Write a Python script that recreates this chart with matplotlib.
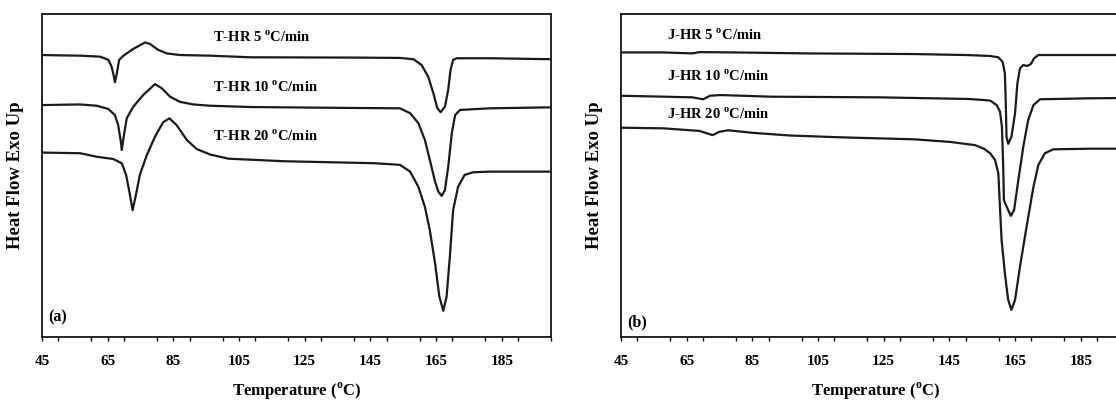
import matplotlib
matplotlib.use('Agg')
import matplotlib.pyplot as plt
from matplotlib.ticker import MultipleLocator

plt.rcParams.update({'font.family': 'serif', 'font.serif': ['Liberation Serif'],
                     'font.weight': 'bold', 'font.size': 11,
                     'mathtext.fontset': 'custom',
                     'mathtext.rm': 'Liberation Serif:bold',
                     'mathtext.bf': 'Liberation Serif:bold'})

# ---- panel (a): T-HR curves (temperature in C, heat flow in arbitrary units)
t5_x = [45, 50, 56.6, 62.7, 65.2, 66.2, 66.9, 67.2, 67.7, 68.5, 69.8, 72.8, 76.4, 77.9, 80.4, 83.0,
        87.0, 96.2, 108.4, 141, 154, 158.1, 160.6, 162.6, 164.2, 165.4, 166.4, 167.7, 168.7, 169.4,
        170.2, 171.3, 181.4, 200]
t5_y = [87.3, 87.2, 87.1, 86.8, 85.8, 83.7, 80.6, 78.9, 81.1, 85.8, 87.1, 89.2, 91.2, 90.7, 88.9, 87.8,
        87.3, 87.1, 86.6, 86.5, 86.4, 86.0, 84.2, 80.6, 75.4, 70.8, 69.6, 71.3, 76.5, 82.7,
        85.8, 86.3, 86.3, 86.0]
t10_x = [45, 56.6, 61.7, 65.2, 67.2, 68.2, 69.0, 69.3, 69.8, 70.8, 72.8, 75.8, 79.4, 81.5, 84.0,
         87.0, 91.1, 96.2, 108.4, 141, 154, 157.1, 159.6, 161.6, 163.1, 164.7, 165.7, 166.7, 167.7,
         168.7, 169.8, 170.8, 172.3, 181.4, 200]
t10_y = [71.8, 72.0, 71.6, 70.6, 68.7, 65.6, 60.5, 57.9, 61.5, 67.7, 71.3, 74.9, 78.3, 77.0, 74.4,
         72.8, 72.0, 71.6, 71.2, 70.9, 70.8, 69.3, 66.2, 61.0, 54.8, 48.1, 45.0, 43.7, 45.5,
         52.7, 63.1, 68.7, 70.3, 70.8, 71.1]
t20_x = [45, 56.6, 61.7, 66.7, 69.3, 70.6, 71.6, 72.6, 73.6, 74.8, 76.9, 79.4, 81.9, 83.8, 86.0,
         89.1, 92.1, 96.2, 101.8, 119.2, 146.4, 154, 157.1, 159.6, 161.6, 163.1, 164.7, 166.0, 167.2,
         168.2, 169.2, 170.2, 171.7, 173.7, 176.3, 181.4, 200]
t20_y = [57.1, 56.9, 55.8, 55.1, 53.8, 50.2, 45.0, 39.3, 44.0, 50.2, 56.3, 62.0, 66.5, 67.7, 65.6,
         61.0, 58.2, 56.5, 55.2, 54.4, 53.8, 53.3, 51.2, 46.5, 40.3, 33.1, 22.8, 12.5, 8.1,
         12.5, 24.9, 39.3, 46.5, 50.2, 51.0, 51.2, 51.2]

# ---- panel (b): J-HR curves
j5_x = [45, 58, 66.7, 68.9, 79.8, 101.6, 134.3, 150, 155, 157.4, 159.9, 161.2, 161.9, 162.2, 162.4,
        162.9, 163.9, 165.0, 165.7, 166.5, 167.5, 168.7, 169.8, 170.8, 172.1, 187.8, 200]
j5_y = [88.1, 88.1, 87.8, 88.2, 88.1, 87.8, 87.6, 87.3, 87.1, 87.0, 86.6, 85.2, 81.6, 71.3, 62.0,
        59.8, 62.0, 69.3, 78.5, 83.2, 84.2, 83.9, 84.5, 86.3, 87.3, 87.3, 87.3]
j10_x = [45, 58, 66.7, 70, 72.1, 75.4, 90.7, 123.4, 150.7, 155, 157.4, 159.4, 160.4, 161.0, 161.4,
         161.6, 162.2, 162.9, 163.7, 164.7, 166.0, 167.5, 169.0, 170.6, 172.6, 187.8, 200]
j10_y = [74.7, 74.4, 74.2, 73.6, 74.7, 74.9, 74.4, 74.2, 73.7, 73.4, 73.2, 71.8, 69.8, 65.1, 52.7,
         42.4, 40.9, 39.3, 37.5, 39.3, 48.6, 58.9, 67.2, 71.8, 73.6, 73.9, 74.0]
j20_x = [45, 58, 68.9, 72.9, 74.9, 77.6, 85.2, 96.1, 112.5, 134.3, 145.2, 152.8, 155.5, 157.4, 158.9,
         159.9, 160.4, 160.9, 161.9, 162.9, 163.9, 165.0, 166.5, 168.5, 170.6, 172.1, 174.1, 176.6,
         187.8, 200]
j20_y = [64.8, 64.6, 63.8, 62.5, 63.5, 64.0, 63.2, 62.4, 61.8, 61.2, 60.4, 59.4, 58.3, 56.9, 54.8,
         50.7, 40.3, 30.0, 19.7, 11.5, 8.4, 11.5, 21.8, 34.1, 46.5, 53.3, 56.9, 58.1, 58.3, 58.3]

t_labels = ['T-HR 5 $^{\\mathrm{o}}$C/min', 'T-HR 10 $^{\\mathrm{o}}$C/min', 'T-HR 20 $^{\\mathrm{o}}$C/min']
j_labels = ['J-HR 5 $^{\\mathrm{o}}$C/min', 'J-HR 10 $^{\\mathrm{o}}$C/min', 'J-HR 20 $^{\\mathrm{o}}$C/min']
t_label_y = [92.9, 77.4, 62.2]
j_label_y = [93.5, 80.8, 68.9]
xticks = [45, 65, 85, 105, 125, 145, 165, 185]

fig = plt.figure(figsize=(11.16, 4.07), dpi=100, facecolor='white')
ax1 = fig.add_axes([42/1116, 70/407, 509/1116, 323/407])
ax2 = fig.add_axes([621/1116, 70/407, 509/1116, 323/407])


def style_axis(ax):
    ax.set_xlim(45, 200)
    ax.set_ylim(0, 100)
    ax.set_xticks(xticks)
    ax.xaxis.set_minor_locator(MultipleLocator(10))
    ax.set_yticks([])
    ax.tick_params(axis='x', which='both', direction='out', length=3, width=1, pad=10, labelsize=11)
    for s in ax.spines.values():
        s.set_linewidth(1.2)
    ax.set_xlabel('Temperature ($^{\\mathrm{o}}$C)', fontsize=12, fontweight='bold', labelpad=9)
    ax.set_ylabel('Heat Flow Exo Up', fontsize=13.5, fontweight='bold')
    ax.yaxis.set_label_coords(-0.036, 0.5)


for xs, ys in [(t5_x, t5_y), (t10_x, t10_y), (t20_x, t20_y)]:
    ax1.plot(xs, ys, color='#1a1a1a', lw=1.6, solid_joinstyle='round')
for xs, ys in [(j5_x, j5_y), (j10_x, j10_y), (j20_x, j20_y)]:
    ax2.plot(xs, ys, color='#1a1a1a', lw=1.6, solid_joinstyle='round')

for lab, yy in zip(t_labels, t_label_y):
    ax1.text(97.1, yy, lab, fontsize=10.5, fontweight='bold', va='center')
for lab, yy in zip(j_labels, j_label_y):
    ax2.text(59.0, yy, lab, fontsize=10.5, fontweight='bold', va='center')

ax1.text(47, 6.2, '(a)', fontsize=11.5, fontweight='bold', va='center')
ax2.text(46.9, 4.6, '(b)', fontsize=11.5, fontweight='bold', va='center')

style_axis(ax1)
style_axis(ax2)

fig.savefig('out.png', dpi=100, facecolor='white')
